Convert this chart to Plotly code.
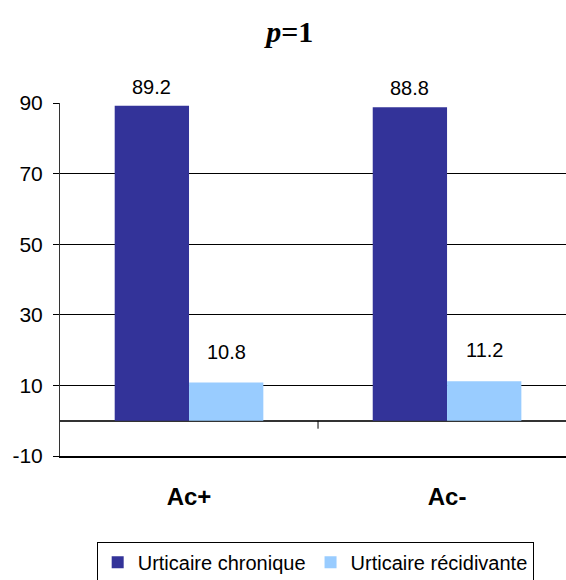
import plotly.graph_objects as go

categories = ["Ac+", "Ac-"]
series_names = ["Urticaire chronique", "Urticaire récidivante"]
chronique = [89.2, 88.8]
recidivante = [10.8, 11.2]
y_ticks = [-10, 10, 30, 50, 70, 90]
y_tick_text = ["-10", "10", "30", "50", "70", "90"]

colors = ["#333399", "#99CCFF"]
label_shift = [6, 18]
bargap = 0.424

fig = go.Figure()
all_series = [chronique, recidivante]
for name, vals, col in zip(series_names, all_series, colors):
    fig.add_trace(go.Bar(x=categories, y=vals, name=name, marker_color=col,
                         marker_line_width=0))

bar_w = (1 - bargap) / len(all_series)
annotations = []
for s, vals in enumerate(all_series):
    off = -((1 - bargap) / 2) + bar_w * (s + 0.5)
    for i, v in enumerate(vals):
        annotations.append(dict(x=i + off, y=v, xref="x", yref="y", text=f"{v:.1f}",
                                showarrow=False, yanchor="bottom", yshift=label_shift[s],
                                font=dict(family="Liberation Sans, Arial", size=20, color="black")))

fig.update_layout(
    width=566, height=580,
    margin=dict(l=60, r=0, t=103, b=124, autoexpand=False),
    paper_bgcolor="white", plot_bgcolor="white",
    barmode="group", bargap=bargap, bargroupgap=0,
    title=dict(text="<b><i>p</i>=1</b>", x=0.512, xanchor="center", y=0.945, yanchor="middle",
               font=dict(family="Liberation Serif, Times New Roman", size=30, color="black")),
    annotations=annotations,
    legend=dict(orientation="h", x=0.0725, y=-0.2426, xanchor="left", yanchor="top",
                bordercolor="black", borderwidth=1, bgcolor="white",
                font=dict(family="Liberation Sans, Arial", size=20, color="black"),
                traceorder="normal"),
    shapes=[dict(type="line", xref="x", yref="y", x0=0.5, x1=0.5, ysizemode="pixel",
                 yanchor=0, y0=0, y1=-8, line=dict(color="black", width=1))],
)

fig.update_xaxes(type="category", range=[-0.5, 1.461], showgrid=False, showline=True,
                 linecolor="black", linewidth=1.5, ticks="", zeroline=False,
                 tickfont=dict(family="Liberation Sans, Arial", size=24, color="black"),
                 ticktext=["<b>" + c + "</b>" for c in categories], tickvals=categories,
                 ticklabelstandoff=18)
fig.update_yaxes(range=[-10, 90], tickvals=y_ticks, ticktext=y_tick_text, showgrid=True,
                 gridcolor="black", gridwidth=1, showline=True, linecolor="#333333", linewidth=1,
                 ticks="outside", ticklen=6, tickcolor="black", zeroline=True,
                 zerolinecolor="#333333", zerolinewidth=2,
                 tickfont=dict(family="Liberation Sans, Arial", size=21, color="black"),
                 ticklabelstandoff=6)

fig.write_html("out.html", config={"displayModeBar": False},
               post_script="document.body.style.margin='0';document.body.style.overflow='hidden';")
